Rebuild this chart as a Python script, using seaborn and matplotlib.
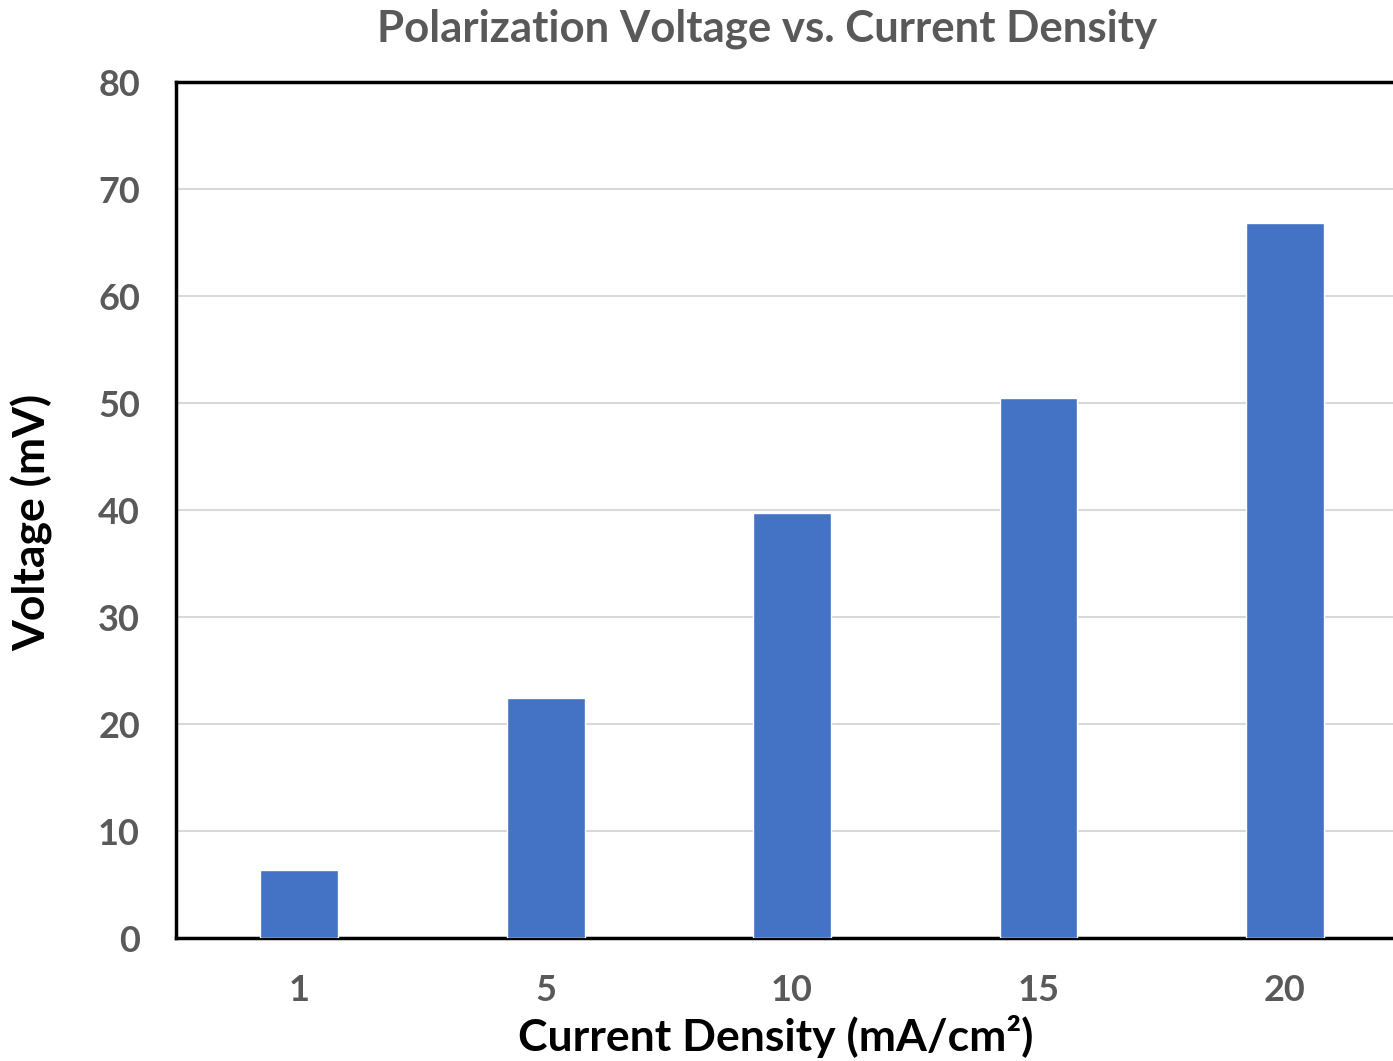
import numpy as np
import pandas as pd
import matplotlib
matplotlib.use('Agg')
import matplotlib.pyplot as plt
import seaborn as sns

# значения
current_density = ['1', '5', '10', '15', '20']
voltage_mv = [6.4, 22.4, 39.7, 50.5, 66.8]

df = pd.DataFrame({'current': current_density, 'voltage': voltage_mv})

sns.set_style('white')
plt.rcParams['font.family'] = ['Lato', 'DejaVu Sans']
plt.rcParams['font.weight'] = 'bold'

fig = plt.figure(figsize=(13.93, 10.61), dpi=100)
ax = fig.add_axes([0.1264, 0.1159, 0.8844, 0.8068])

sns.barplot(data=df, x='current', y='voltage', order=current_density,
            color='#4472C4', saturation=1, width=0.316, ax=ax, zorder=3)

ax.set_xlim(-0.5, 4.5)
ax.set_ylim(0, 80)
ax.set_yticks(np.arange(0, 81, 10))
ax.yaxis.grid(True, color='#d9d9d9', linewidth=1.5, zorder=0)
ax.set_axisbelow(True)

for side in ['left', 'top', 'bottom', 'right']:
    ax.spines[side].set_color('black')
    ax.spines[side].set_linewidth(2.5)

gray = '#595959'
ax.tick_params(axis='y', length=0, pad=26, labelsize=26, labelcolor=gray)
ax.tick_params(axis='x', length=0, pad=26, labelsize=26, labelcolor=gray)
for lab in ax.get_xticklabels() + ax.get_yticklabels():
    lab.set_fontweight('bold')

ax.set_xlabel('Current Density (mA/cm²)', fontsize=32, fontweight='bold',
              color='black', labelpad=6)
ax.set_ylabel('Voltage (mV)', fontsize=32, fontweight='bold',
              color='black', labelpad=32)
ax.xaxis.label.set_x(0.4866)
ax.yaxis.label.set_y(0.485)

fig.text(0.551, 0.973, 'Polarization Voltage vs. Current Density',
         ha='center', va='center', fontsize=31.5, fontweight='bold', color=gray)

plt.savefig('out.png', dpi=100)
plt.close()
